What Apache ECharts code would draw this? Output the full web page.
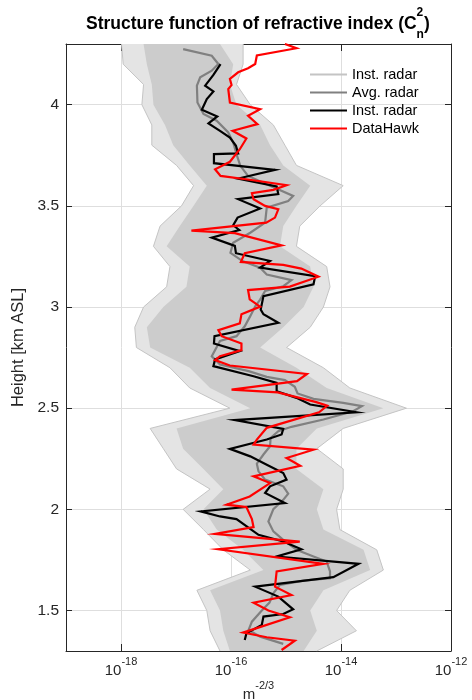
<!DOCTYPE html>
<html>
<head>
<meta charset="utf-8">
<script src="https://cdn.jsdelivr.net/npm/echarts@6/dist/echarts.min.js"></script>
<style>
  html, body { margin: 0; padding: 0; background: #fff; }
  #chart { width: 472px; height: 700px; }
</style>
</head>
<body>
<div id="chart"></div>
<script>
// Axis ticks
const heightTicks = [1.5, 2, 2.5, 3, 3.5, 4];
const cn2Ticks = [1e-18, 1e-16, 1e-14, 1e-12];

// Profiles: [height km ASL, log10 Cn2 (m^-2/3)]
const avgRadar = [
  [4.275,-16.87],[4.242,-16.35],[4.201,-16.23],[4.168,-16.35],[4.135,-16.56],[4.094,-16.62],
  [4.011,-16.61],[3.954,-16.50],[3.921,-16.26],[3.863,-16.05],[3.813,-15.96],[3.747,-15.89],
  [3.698,-15.83],[3.648,-15.69],[3.599,-15.29],[3.549,-14.87],[3.524,-14.96],[3.491,-15.35],
  [3.417,-15.38],[3.367,-15.65],[3.318,-15.96],[3.268,-16.01],[3.227,-15.79],[3.194,-15.47],
  [3.161,-15.35],[3.133,-14.90],[3.103,-15.05],[3.079,-15.38],[3.037,-15.47],[3.004,-15.56],
  [2.955,-15.65],[2.905,-15.75],[2.856,-15.90],[2.832,-16.20],[2.757,-16.35],[2.716,-16.20],
  [2.683,-15.68],[2.655,-15.35],[2.639,-15.02],[2.606,-14.84],[2.573,-14.79],[2.546,-14.50],
  [2.526,-13.96],[2.510,-13.62],[2.485,-13.78],[2.444,-14.32],[2.408,-14.90],[2.386,-15.14],
  [2.353,-15.28],[2.312,-15.29],[2.271,-15.41],[2.226,-15.53],[2.188,-15.50],[2.147,-15.38],
  [2.114,-15.05],[2.078,-14.96],[2.047,-15.05],[2.001,-15.23],[1.940,-15.32],[1.891,-15.23],
  [1.849,-15.05],[1.800,-14.81],[1.767,-14.50],[1.742,-14.26],[1.693,-14.20],[1.660,-14.20],
  [1.648,-14.68],[1.627,-15.11],[1.585,-15.23],[1.539,-15.30],[1.500,-15.44],[1.445,-15.62],
  [1.404,-15.68],[1.371,-15.47],[1.335,-15.05]
];

const instRadar = [
  [4.200,-16.19],[4.147,-16.32],[4.094,-16.47],[4.066,-16.32],[4.028,-16.44],[3.975,-16.53],
  [3.942,-16.25],[3.908,-16.41],[3.871,-16.20],[3.838,-16.02],[3.797,-15.91],[3.759,-15.87],
  [3.756,-16.31],[3.711,-16.31],[3.678,-15.20],[3.635,-15.87],[3.596,-15.17],[3.558,-15.14],
  [3.533,-15.87],[3.487,-15.47],[3.442,-15.88],[3.404,-15.96],[3.381,-15.85],[3.343,-16.35],
  [3.302,-15.93],[3.266,-15.91],[3.228,-15.29],[3.195,-15.47],[3.153,-14.47],[3.112,-14.50],
  [3.054,-15.41],[2.988,-15.46],[2.964,-15.41],[2.922,-15.14],[2.856,-16.30],[2.820,-16.31],
  [2.782,-15.84],[2.741,-16.29],[2.708,-16.32],[2.658,-15.59],[2.625,-15.17],[2.584,-15.17],
  [2.551,-14.81],[2.518,-14.56],[2.480,-13.72],[2.441,-15.93],[2.398,-15.05],[2.370,-15.08],
  [2.345,-15.35],[2.299,-16.02],[2.262,-15.65],[2.221,-15.35],[2.180,-15.05],[2.147,-14.99],
  [2.114,-15.29],[2.081,-15.38],[2.031,-15.02],[1.990,-16.55],[1.965,-16.20],[1.952,-15.90],
  [1.874,-15.50],[1.841,-15.05],[1.803,-14.72],[1.767,-15.17],[1.731,-13.68],[1.665,-14.14],
  [1.618,-15.56],[1.569,-15.14],[1.506,-14.87],[1.483,-15.05],[1.470,-15.41],[1.429,-15.44],
  [1.387,-15.72],[1.354,-15.75]
];

const dataHawk = [
  [4.300,-15.02],[4.279,-14.81],[4.243,-15.53],[4.201,-15.56],[4.180,-15.69],[4.160,-15.87],
  [4.127,-16.02],[4.097,-15.99],[4.077,-16.05],[4.011,-16.02],[3.978,-15.47],[3.945,-15.69],
  [3.904,-15.52],[3.871,-15.97],[3.833,-15.72],[3.780,-15.84],[3.718,-16.02],[3.681,-16.29],
  [3.648,-16.19],[3.629,-15.66],[3.602,-14.99],[3.579,-15.23],[3.563,-15.62],[3.533,-15.59],
  [3.500,-15.38],[3.483,-15.14],[3.442,-15.20],[3.417,-15.36],[3.378,-16.72],[3.365,-15.93],
  [3.305,-15.08],[3.266,-15.75],[3.223,-15.82],[3.208,-15.05],[3.190,-14.72],[3.150,-14.41],
  [3.101,-14.93],[3.084,-15.69],[3.038,-15.66],[3.002,-15.47],[2.964,-15.81],[2.919,-15.84],
  [2.886,-16.23],[2.856,-16.17],[2.820,-15.81],[2.787,-15.81],[2.757,-16.20],[2.738,-16.29],
  [2.711,-16.02],[2.669,-14.62],[2.634,-14.80],[2.592,-15.99],[2.578,-15.15],[2.530,-14.45],
  [2.512,-14.25],[2.480,-14.40],[2.403,-15.35],[2.345,-15.53],[2.320,-15.59],[2.295,-14.50],
  [2.254,-14.99],[2.215,-14.74],[2.163,-15.59],[2.130,-15.29],[2.114,-15.38],[2.064,-15.66],
  [2.023,-16.08],[2.011,-15.72],[1.952,-15.62],[1.912,-15.59],[1.879,-16.29],[1.841,-14.75],
  [1.803,-16.23],[1.731,-14.32],[1.693,-15.17],[1.618,-15.20],[1.577,-14.90],[1.539,-15.59],
  [1.500,-15.32],[1.467,-14.93],[1.391,-15.78],[1.368,-15.35],[1.351,-14.84],[1.305,-15.08]
];

// Spread of the instantaneous radar ensemble:
// [height, outer left, dense left, dense right, outer right] in log10 Cn2
const ensembleSpread = [
  [4.30,-17.99,-17.59,-16.20,-15.78],[4.20,-17.96,-17.53,-15.96,-15.78],
  [4.10,-17.59,-17.44,-16.02,-15.90],[4.00,-17.62,-17.41,-15.90,-15.65],
  [3.90,-17.44,-17.20,-15.47,-15.23],[3.80,-17.44,-17.05,-15.29,-15.02],
  [3.70,-16.99,-16.75,-15.05,-14.81],[3.60,-16.68,-16.44,-14.56,-13.96],
  [3.50,-16.90,-16.68,-14.81,-14.38],[3.40,-17.29,-16.93,-15.05,-14.75],
  [3.30,-17.41,-17.17,-15.11,-14.81],[3.20,-17.11,-16.75,-14.56,-14.26],
  [3.10,-17.17,-16.81,-14.50,-14.20],[3.00,-17.59,-17.23,-14.68,-14.32],
  [2.90,-17.75,-17.53,-15.05,-14.56],[2.80,-17.72,-17.47,-15.47,-14.99],
  [2.70,-17.11,-16.75,-14.81,-14.32],[2.60,-16.75,-16.38,-14.26,-13.84],
  [2.50,-16.02,-15.65,-13.23,-12.81],[2.40,-17.47,-16.99,-14.44,-13.96],
  [2.30,-17.23,-16.87,-14.81,-14.44],[2.20,-16.99,-16.50,-14.81,-13.96],
  [2.10,-16.38,-16.14,-14.32,-13.96],[2.00,-16.87,-16.50,-14.44,-14.08],
  [1.90,-16.50,-16.26,-14.32,-14.02],[1.80,-16.14,-15.78,-13.59,-13.35],
  [1.70,-15.65,-15.41,-13.47,-13.23],[1.60,-16.62,-16.38,-14.32,-13.84],
  [1.50,-16.44,-16.20,-14.56,-14.08],[1.40,-16.38,-16.14,-14.44,-13.72],
  [1.30,-16.20,-16.02,-14.68,-14.44]
];

const FONT = "'Liberation Sans', Arial, Helvetica, sans-serif";
const AXIS_COLOR = '#262626';

const toPoints = rows => rows.map(r => [Math.pow(10, r[1]), r[0]]);
const spreadEdge = col => ensembleSpread.map(r => [Math.pow(10, r[col]), r[0]]);

// Filled band between two edges of the ensemble spread
function bandSeries(loCol, hiCol, color, z) {
  const ring = spreadEdge(loCol).concat(spreadEdge(hiCol).reverse());
  return {
    type: 'custom',
    silent: true,
    clip: true,
    z: z,
    data: ring,
    encode: { x: 0, y: 1 },
    renderItem: function (params, api) {
      if (params.dataIndexInside !== 0) return null;
      return {
        type: 'polygon',
        shape: { points: ring.map(p => api.coord(p)) },
        style: { fill: color, stroke: null }
      };
    }
  };
}

function lineSeries(name, data, color, width, z) {
  return {
    name: name,
    type: 'line',
    data: data,
    symbol: 'none',
    smooth: false,
    clip: true,
    z: z,
    lineStyle: { color: color, width: width, join: 'miter' },
    itemStyle: { color: color },
    emphasis: { disabled: true }
  };
}

const expLabel = v => '{b|10}{s|' + Math.round(Math.log10(v)) + '}';

const chart = echarts.init(document.getElementById('chart'), null, { renderer: 'canvas' });

chart.setOption({
  animation: false,
  backgroundColor: '#ffffff',
  title: {
    text: '{t|Structure function of refractive index (C}{sup|2}{sub|n}{t|)}',
    left: 86,
    top: 7,
    padding: 0,
    textStyle: {
      rich: {
        t: { fontSize: 17.5, fontWeight: 'bold', fontFamily: FONT, color: '#000', lineHeight: 34 },
        sup: { fontSize: 12, fontWeight: 'bold', fontFamily: FONT, color: '#000', width: 0, lineHeight: 22, verticalAlign: 'top' },
        sub: { fontSize: 12, fontWeight: 'bold', fontFamily: FONT, color: '#000', lineHeight: 14, verticalAlign: 'bottom' }
      }
    }
  },
  legend: {
    orient: 'vertical',
    left: 309,
    top: 67,
    padding: 0,
    itemGap: 3,
    itemWidth: 37,
    itemHeight: 14,
    selectedMode: false,
    itemStyle: { opacity: 0 },
    data: ['Inst. radar', 'Avg. radar', 'Inst. radar ', 'DataHawk'],
    textStyle: { fontSize: 14.5, fontFamily: FONT, color: '#000' }
  },
  grid: { left: 66, right: 21, top: 44, bottom: 49, containLabel: false, outerBoundsMode: 'none' },
  xAxis: [
    {
      type: 'log', logBase: 10, min: 1e-19, max: 1e-12,
      position: 'bottom',
      name: '{b|m}{s|-2/3}',
      nameLocation: 'middle',
      nameGap: 29,
      nameMoveOverlap: false,
      nameTextStyle: {
        rich: {
          b: { fontSize: 15, fontFamily: FONT, color: AXIS_COLOR, lineHeight: 22, verticalAlign: 'bottom' },
          s: { fontSize: 11, fontFamily: FONT, color: AXIS_COLOR, verticalAlign: 'top' }
        }
      },
      axisLine: { show: true, onZero: false, lineStyle: { color: AXIS_COLOR, width: 1 } },
      axisTick: { show: true, inside: true, length: 7, customValues: cn2Ticks, lineStyle: { color: AXIS_COLOR } },
      axisLabel: {
        show: true, margin: 5, customValues: cn2Ticks,
        formatter: expLabel,
        rich: {
          b: { fontSize: 15, fontFamily: FONT, color: AXIS_COLOR, lineHeight: 22, verticalAlign: 'bottom' },
          s: { fontSize: 11, fontFamily: FONT, color: AXIS_COLOR, verticalAlign: 'top' }
        }
      },
      splitLine: { show: true, lineStyle: { color: '#dedede', width: 1 } },
      minorTick: { show: false },
      minorSplitLine: { show: false }
    },
    {
      type: 'log', logBase: 10, min: 1e-19, max: 1e-12,
      position: 'top',
      axisLine: { show: true, onZero: false, lineStyle: { color: AXIS_COLOR, width: 1 } },
      axisTick: { show: true, inside: true, length: 7, customValues: cn2Ticks, lineStyle: { color: AXIS_COLOR } },
      axisLabel: { show: false },
      splitLine: { show: false }
    }
  ],
  yAxis: [
    {
      type: 'value', min: 1.3, max: 4.3,
      position: 'left',
      name: 'Height [km ASL]',
      nameLocation: 'middle',
      nameRotate: 90,
      nameGap: 27,
      nameTextStyle: { fontSize: 16.5, fontFamily: FONT, color: AXIS_COLOR },
      axisLine: { show: true, onZero: false, lineStyle: { color: AXIS_COLOR, width: 1 } },
      axisTick: { show: true, inside: true, length: 6, customValues: heightTicks, lineStyle: { color: AXIS_COLOR } },
      axisLabel: { show: true, margin: 7, customValues: heightTicks, fontSize: 15.5, fontFamily: FONT, color: AXIS_COLOR },
      splitLine: { show: true, lineStyle: { color: '#dedede', width: 1 } }
    },
    {
      type: 'value', min: 1.3, max: 4.3,
      position: 'right',
      axisLine: { show: true, onZero: false, lineStyle: { color: AXIS_COLOR, width: 1 } },
      axisTick: { show: true, inside: true, length: 6, customValues: heightTicks, lineStyle: { color: AXIS_COLOR } },
      axisLabel: { show: false },
      splitLine: { show: false }
    }
  ],
  series: [
    bandSeries(1, 4, '#e4e4e4', 1),
    bandSeries(2, 3, '#cccccc', 2),
    lineSeries('Inst. radar', spreadEdge(1), '#c4c4c4', 1, 3),
    lineSeries('Inst. radar', spreadEdge(4), '#c4c4c4', 1, 3),
    lineSeries('Avg. radar', toPoints(avgRadar), '#808080', 2.2, 4),
    lineSeries('Inst. radar ', toPoints(instRadar), '#000000', 2.2, 5),
    lineSeries('DataHawk', toPoints(dataHawk), '#ff0000', 2.2, 6)
  ]
});
</script>
</body>
</html>
